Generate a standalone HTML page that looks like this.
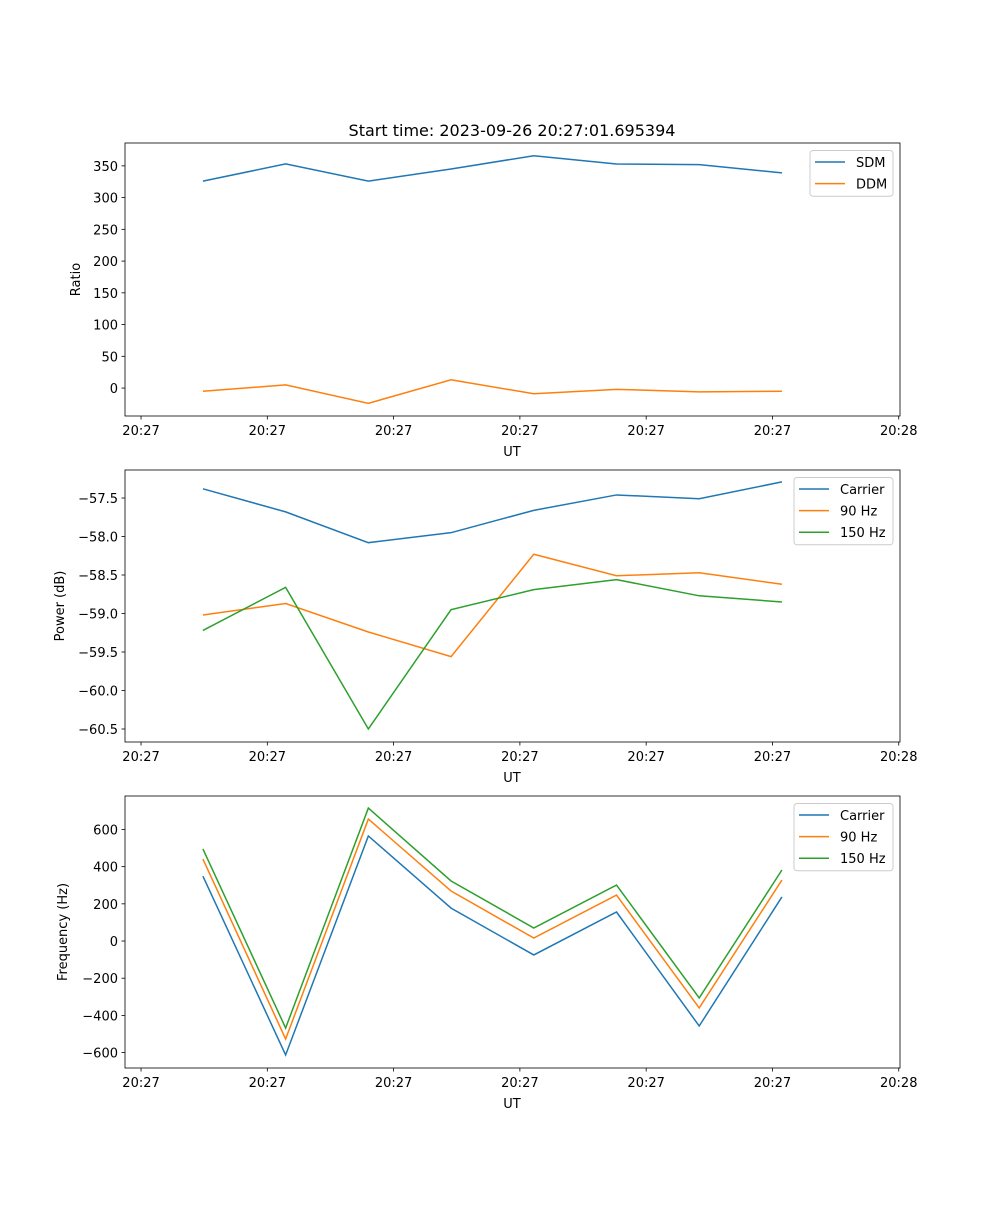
<!DOCTYPE html>
<html><head><meta charset="utf-8"><style>
body{margin:0;background:#fff}
svg text{font-family:"DejaVu Sans","Liberation Sans",sans-serif;fill:#000}
</style></head><body>
<svg id="fig" width="1000" height="1200" xmlns="http://www.w3.org/2000/svg">
<text x="512" y="136" font-size="16" text-anchor="middle">Start time: 2023-09-26 20:27:01.695394</text>
</svg>
<script>
const times=[4.9,11.45,18.0,24.55,31.1,37.65,44.2,50.75];
const xTickVals=[0,10,20,30,40,50,60];
const xTickLabels=["20:27","20:27","20:27","20:27","20:27","20:27","20:28"];
const sdm=[326,353,326,345,366,353,352,339];
const ddm=[-5,5,-24,13,-9,-2,-6,-5];
const pCarrier=[-57.38,-57.68,-58.08,-57.95,-57.66,-57.46,-57.51,-57.29];
const p90=[-59.02,-58.87,-59.24,-59.56,-58.23,-58.51,-58.47,-58.62];
const p150=[-59.22,-58.66,-60.5,-58.95,-58.69,-58.56,-58.77,-58.85];
const fCarrier=[349,-613,565,177,-75,156,-457,237];
const f90=[441,-527,656,269,16,247,-360,328];
const f150=[495,-468,715,323,70,301,-306,382];
const ticks1=[0,50,100,150,200,250,300,350];
const ticks2=[-60.5,-60.0,-59.5,-59.0,-58.5,-58.0,-57.5];
const ticks3=[-600,-400,-200,0,200,400,600];
const C=["#1f77b4","#ff7f0e","#2ca02c"];
const NS="http://www.w3.org/2000/svg";
const svg=document.getElementById('fig');
function mk(t,a,p){const e=document.createElementNS(NS,t);for(const k in a)e.setAttribute(k,a[k]);(p||svg).appendChild(e);return e;}
const L=125,R=900,X0=-1.27,X1=60.1;
const xs=v=>L+(v-X0)/(X1-X0)*(R-L);
function panel(name,top,bot,y0,y1,ticks,fmt,ylabel,series,legend){
  const g=mk('g',{});
  
  
  const ys=v=>bot-(v-y0)/(y1-y0)*(bot-top);
  series.forEach((s,i)=>{
    const pl=mk('polyline',{points:s.d.map((v,j)=>xs(times[j])+','+ys(v)).join(' '),fill:'none',stroke:C[i],'stroke-width':1.5},g);
    
    
  });
  const fr=mk('rect',{x:L,y:top,width:R-L,height:bot-top,fill:'none',stroke:'#000','stroke-width':0.8},g);
  
  
  xTickVals.forEach((v,i)=>{const x=xs(v);mk('line',{x1:x,x2:x,y1:bot,y2:bot+3.5,stroke:'#000','stroke-width':0.8},g);
    const t=mk('text',{x:x,y:bot+19,'font-size':13,'text-anchor':'middle'},g);t.textContent=xTickLabels[i];
    
    });
  ticks.forEach(v=>{const y=ys(v);mk('line',{x1:L-3.5,x2:L,y1:y,y2:y,stroke:'#000','stroke-width':0.8},g);
    const t=mk('text',{x:L-7,y:y+5,'font-size':13,'text-anchor':'end'},g);t.textContent=fmt(v);
    
    });
  const xl=mk('text',{x:512,y:bot+40,'font-size':13,'text-anchor':'middle'},g);xl.textContent='UT';
  
  
  const cy=(top+bot)/2;
  const yl=mk('text',{x:0,y:0,'font-size':13,'text-anchor':'middle',transform:`translate(${legend.yl},${cy}) rotate(-90)`},g);yl.textContent=ylabel;
  
  
  const lg=mk('g',{},g);
  
  
  mk('rect',{x:legend.x,y:top+7.5,width:R-7-legend.x,height:series.length*21.6+2.5,rx:3,fill:'#fff','fill-opacity':0.8,stroke:'#ccc'},lg);
  series.forEach((s,i)=>{const y=top+19+i*21.6;
    mk('line',{x1:legend.x+5,x2:legend.x+35,y1:y,y2:y,stroke:C[i],'stroke-width':1.5},lg);
    const t=mk('text',{x:legend.x+46,y:y+5,'font-size':13},lg);t.textContent=s.n;
    
    });
}
panel('ratio-panel',143,416,-44,386,ticks1,v=>String(v),'Ratio',[{n:'SDM',d:sdm},{n:'DDM',d:ddm}],{x:810,yl:80});
panel('power-panel',470,742,-60.669,-57.136,ticks2,v=>v.toFixed(1).replace('-','\u2212'),'Power (dB)',[{n:'Carrier',d:pCarrier},{n:'90 Hz',d:p90},{n:'150 Hz',d:p150}],{x:794,yl:64});
panel('frequency-panel',796,1068,-683,780,ticks3,v=>String(v).replace('-','\u2212'),'Frequency (Hz)',[{n:'Carrier',d:fCarrier},{n:'90 Hz',d:f90},{n:'150 Hz',d:f150}],{x:794,yl:67});
</script>
</body></html>
